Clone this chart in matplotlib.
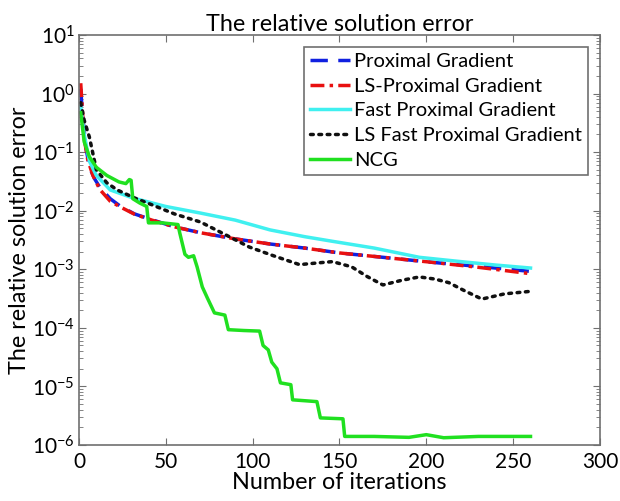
import numpy as np
import matplotlib
matplotlib.use("Agg")
from matplotlib import pyplot as plt

plt.rcParams['font.family'] = ['Lato', 'DejaVu Sans']
plt.rcParams['mathtext.fontset'] = 'custom'
plt.rcParams['mathtext.rm'] = 'Lato'
plt.rcParams['mathtext.it'] = 'Lato'

# values (iteration, error)
pg_x = [1, 2, 4, 6, 9, 12, 18, 24, 32, 42, 55, 70, 90, 110, 130, 150, 175, 205, 230, 260]
pg_y = [1.2, 0.45, 0.12, 0.055, 0.035, 0.025, 0.016, 0.0118, 0.0088, 0.0070, 0.0053, 0.0042, 0.0033, 0.0027, 0.0023, 0.0019, 0.0016, 0.0013, 0.00112, 0.00092]

ls_pg_x = [1, 2, 3, 5, 8, 12, 18, 24, 32, 42, 55, 70, 90, 110, 130, 150, 175, 205, 230, 260]
ls_pg_y = [1.5, 0.5, 0.17, 0.075, 0.04, 0.023, 0.0145, 0.0115, 0.0087, 0.0069, 0.0053, 0.0042, 0.0033, 0.0027, 0.0023, 0.0019, 0.0016, 0.0013, 0.00108, 0.00084]

fpg_x = [1, 3, 6, 10, 18, 31, 50, 70, 90, 110, 130, 146, 170, 196, 220, 240, 260]
fpg_y = [0.6, 0.2, 0.07, 0.04, 0.0226, 0.0165, 0.0118, 0.0091, 0.0069, 0.0047, 0.0036, 0.0030, 0.0023, 0.0016, 0.00135, 0.00118, 0.00105]

lsf_x = [1, 3, 6, 10, 16, 22, 32, 42, 55, 70, 85, 98, 112, 127, 137, 146, 157, 166, 175, 186, 196, 205, 213, 222, 232, 245, 260]
lsf_y = [0.7, 0.35, 0.18, 0.05, 0.03, 0.0226, 0.0165, 0.0126, 0.0088, 0.0064, 0.0038, 0.0024, 0.0017, 0.0012, 0.00128, 0.00135, 0.0011, 0.00075, 0.00054, 0.00065, 0.00074, 0.00068, 0.00059, 0.00043, 0.00031, 0.00038, 0.00042]

ncg_x = [1, 3, 6, 10, 16, 23, 27, 29, 30, 31, 35, 39, 40, 48, 57, 58, 61, 63, 66, 68, 71, 74, 78, 84, 86, 95, 104, 106, 109, 111, 114, 116, 122, 123, 137, 139, 152, 153, 170, 190, 200, 210, 230, 260]
ncg_y = [0.47, 0.15, 0.083, 0.055, 0.04, 0.031, 0.029, 0.034, 0.033, 0.016, 0.0135, 0.0118, 0.0062, 0.0062, 0.0058, 0.0042, 0.0018, 0.0016, 0.0017, 0.0011, 0.0005, 0.00032, 0.00018, 0.000165, 0.000093, 0.00009, 0.000088, 0.00005, 0.000042, 0.000026, 0.00002, 0.0000115, 0.0000107, 0.0000059, 0.0000055, 0.0000029, 0.0000028, 0.0000014, 0.0000014, 0.00000135, 0.0000015, 0.00000133, 0.0000014, 0.0000014]

fig = plt.figure(figsize=(6.2, 5.01), dpi=100)
ax = fig.add_axes([0.1274, 0.1118, 0.8403, 0.8184])

ax.plot(pg_x, pg_y, color='#1020e0', lw=2.5, ls=(0, (5, 3)), label='Proximal Gradient')
ax.plot(ls_pg_x, ls_pg_y, color='#e81010', lw=2.5, ls=(0, (4, 1.5, 1, 1.5)), label='LS-Proximal Gradient')
ax.plot(fpg_x, fpg_y, color='#40f0f0', lw=2.5, label='Fast Proximal Gradient')
ax.plot(lsf_x, lsf_y, color='#101010', lw=2.5, ls=(0, (0.8, 1.6)), dash_capstyle='round', label='LS Fast Proximal Gradient')
ax.plot(ncg_x, ncg_y, color='#20e020', lw=2.5, label='NCG')

ax.set_yscale('log')
ax.set_xlim(0, 300)
ax.set_ylim(1e-6, 1e1)
ax.set_xticks([0, 50, 100, 150, 200, 250, 300])
ax.set_yticks([10.0 ** k for k in range(-6, 2)])
ax.set_yticklabels(['$10^{%d}$' % k for k in range(-6, 2)])

for s in ax.spines.values():
    s.set_color('#707070')
    s.set_linewidth(1.2)
ax.tick_params(axis='both', which='both', direction='in', top=True, right=True, colors='#707070', labelcolor='black', labelsize=15)
ax.tick_params(axis='both', which='major', length=5)
ax.tick_params(axis='y', which='minor', length=3)
ax.tick_params(axis='x', pad=5)
ax.tick_params(axis='y', pad=3)

ax.set_title('The relative solution error', fontsize=16.8, pad=3)
ax.set_xlabel('Number of iterations', fontsize=16.8, labelpad=0)
ax.set_ylabel('The relative solution error', fontsize=16.8, labelpad=1)

leg = ax.legend(loc='upper right', fontsize=14.5, handlelength=2.0, handletextpad=0.2, labelspacing=0.38, borderpad=0.3, borderaxespad=0, fancybox=False, framealpha=1, bbox_to_anchor=(0.977, 0.971))
leg.get_frame().set_edgecolor('#707070')
leg.get_frame().set_linewidth(1.2)

fig.savefig('out.png', dpi=100)
